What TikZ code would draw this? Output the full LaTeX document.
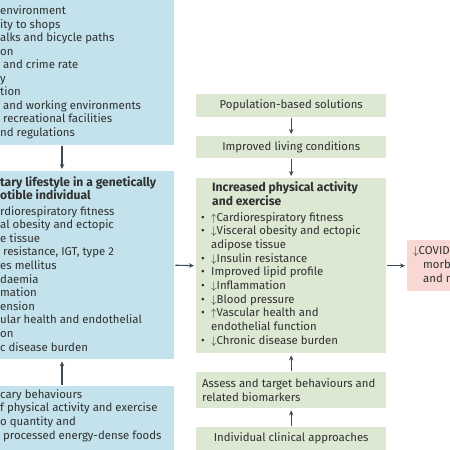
\documentclass[tikz,border=0pt]{standalone}
\usepackage{fontspec}
\setmainfont{Fira Sans}
\usepackage{amssymb,amsmath}
\usetikzlibrary{arrows.meta,positioning,calc}

\definecolor{boxblue}{RGB}{195,226,235}
\definecolor{boxgreen}{RGB}{221,232,211}
\definecolor{boxpink}{RGB}{249,216,211}
\definecolor{arrowgray}{RGB}{60,72,82}
\definecolor{textgray}{RGB}{48,48,48}

\newcommand{\itm}{\makebox[10pt][l]{\textbullet}}
\newcommand{\gap}{\hspace*{10pt}}

\begin{document}
\begin{tikzpicture}
    [x=1pt,y=-1pt,
     every node/.style={inner sep=0pt,text=textgray,font=\fontsize{11.4}{13.8}\selectfont},
     txt/.style={anchor=base west},
     titletxt/.style={anchor=base west,font=\fontsize{12.1}{13.8}\selectfont\bfseries},
     bluebox/.style={rectangle,fill=boxblue,anchor=north west,minimum width=184pt},
     greenbox/.style={rectangle,fill=boxgreen,anchor=north west,minimum width=190pt},
     pinkbox/.style={rectangle,fill=boxpink,anchor=north west},
     arr/.style={draw=arrowgray,line width=1.1pt,-{Stealth[length=5pt,width=4.5pt]},shorten <=1pt,shorten >=2pt}]

    \useasboundingbox (0,0) rectangle (450,450);
    \clip (0,0) rectangle (450,450);

    % left column
    \node[bluebox,minimum height=155pt] (built) at (-10,-10) {};
    \node[bluebox,minimum height=188pt] (lifestyle) at (-10,171) {};
    \node[bluebox,minimum height=80pt] (sedentary) at (-10,386) {};

    \foreach \x/\t [count=\i] in {0/environment, 0/ity to shops, 0/alks and bicycle paths, 0/on,
        3/and crime rate, 0/y, 0/tion, 3/and working environments, 3/recreational facilities,
        0/nd regulations}
        \node[txt] (built-\i) at (\x,{14.5+13.5*(\i-1)}) {\t};

    \node[titletxt] (lifestyle-t1) at (0,186) {tary lifestyle in a genetically};
    \node[titletxt] (lifestyle-t2) at (0,199) {otible individual};
    \foreach \x/\t [count=\i] in {0/rdiorespiratory fitness, 0/al obesity and ectopic, 0/e tissue,
        3/{resistance, IGT, type 2}, 0/es mellitus, 0/daemia, 0/mation, 0/ension,
        0/ular health and endothelial, 0/on, 0/c disease burden}
        \node[txt] (lifestyle-\i) at (\x,{215+13.6*(\i-1)}) {\t};

    \foreach \x/\t [count=\i] in {0/cary behaviours, 0/f physical activity and exercise,
        0/o quantity and/or quality, 3/processed energy-dense foods}
        \node[txt] (sedentary-\i) at (\x,{398+13.8*(\i-1)}) {\t};

    % right column
    \node[greenbox,minimum height=23pt] (popsol) at (196,94) {Population-based solutions};
    \node[greenbox,minimum height=22pt] (living) at (196,136) {Improved living conditions};
    \node[greenbox,minimum height=175pt] (activity) at (196,178) {};
    \node[greenbox,minimum height=36pt] (assess) at (196,372) {};
    \node[greenbox,minimum height=23pt] (clinical) at (196,427) {Individual clinical approaches};
    \node[anchor=west,align=left,right=6pt of assess.west] (assess-text)
        {Assess and target behaviours and\\related biomarkers};

    \node[titletxt] (activity-t1) at (212,191) {Increased physical activity};
    \node[titletxt] (activity-t2) at (212,205) {and exercise};
    \foreach \t [count=\i] in {{\itm$\uparrow$Cardiorespiratory fitness},
        {\itm$\downarrow$Visceral obesity and ectopic}, {\gap adipose tissue},
        {\itm$\downarrow$Insulin resistance}, {\itm Improved lipid profile},
        {\itm$\downarrow$Inflammation}, {\itm$\downarrow$Blood pressure},
        {\itm$\uparrow$Vascular health and}, {\gap endothelial function},
        {\itm$\downarrow$Chronic disease burden}}
        \node[txt] (activity-\i) at (201,{221+13.7*(\i-1)}) {\t};

    % outcome
    \node[pinkbox,minimum width=60pt,minimum height=51pt] (covid) at (407,240) {};
    \node[txt] (covid-1) at (413,254) {$\downarrow$COVID};
    \node[txt] (covid-2) at (423,268) {morb};
    \node[txt] (covid-3) at (423,282) {and m};

    % arrows
    \coordinate (leftaxis) at (62,0);
    \draw[arr] (leftaxis |- built.south) -- (leftaxis |- lifestyle.north);
    \draw[arr] (leftaxis |- sedentary.north) -- (leftaxis |- lifestyle.south);
    \draw[arr] (lifestyle.east) -- (activity.west);
    \draw[arr] (activity.east) -- (covid.west);
    \draw[arr] (popsol) -- (living);
    \draw[arr] (living) -- (activity);
    \draw[arr] (assess) -- (activity);
    \draw[arr] (clinical) -- (assess);
\end{tikzpicture}
\end{document}
